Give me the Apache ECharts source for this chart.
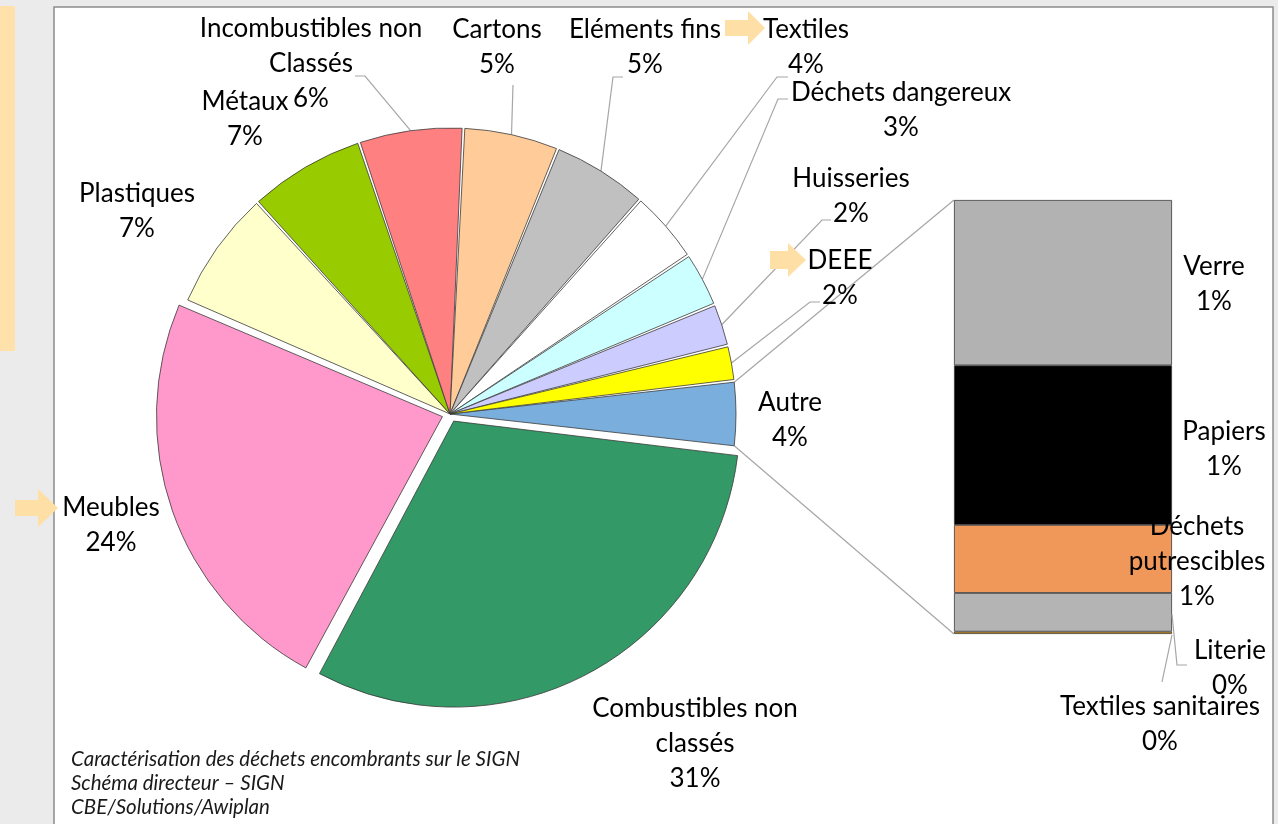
<!DOCTYPE html>
<html><head><meta charset="utf-8">
<script src="https://cdn.jsdelivr.net/npm/echarts@6/dist/echarts.min.js"></script>
<style>html,body{margin:0;padding:0;background:#ebebeb;}#c{width:1278px;height:824px;}</style>
</head><body><div id="c"></div>
<script>
// ---- DATA ----
// Main pie, listed clockwise starting with "Autre" (centred on the right)
const pieNames = ['Autre', 'Combustibles non\nclassés', 'Meubles', 'Plastiques', 'Métaux',
  'Incombustibles non\nClassés', 'Cartons', 'Eléments fins', 'Textiles', 'Déchets dangereux',
  'Huisseries', 'DEEE'];
const pieValues = [3.7, 31.0, 23.6, 6.8, 6.6, 5.9, 5.4, 5.4, 4.1, 3.1, 2.4, 2.0];
const explodedNames = ['Combustibles non\nclassés', 'Meubles'];
// Breakdown of "Autre" (stacked bar, bottom to top)
const barNames = ['Textiles sanitaires', 'Literie', 'Déchets\nputrescibles', 'Papiers', 'Verre'];
const barValues = [0.02, 0.33, 0.58, 1.36, 1.41];
const captionLines = ['Caractérisation des déchets encombrants sur le SIGN', 'Schéma directeur – SIGN', 'CBE/Solutions/Awiplan'];

// ---- STYLE / LAYOUT ----
const pieColors = ['#7aaedc', '#339966', '#ff99cc', '#ffffcc', '#99cc00', '#ff8080', '#ffcc99',
  '#c0c0c0', '#ffffff', '#ccffff', '#ccccff', '#ffff00'];
const barColors = ['#e8a317', '#b4b4b4', '#f0975a', '#000000', '#b2b2b2'];
const FONT = 'Lato, "Open Sans", sans-serif';
// label centre, leader-line end offset from centre, elbow length
const pieLabelSpots = [
  { at: [790, 420] },
  { at: [695, 744] },
  { at: [111, 525] },
  { at: [137, 211] },
  { at: [245, 119] },
  { at: [311, 64], end: [44, 12], elbow: 10 },
  { at: [497, 47], end: [16, 38], elbow: 0 },
  { at: [645, 47], end: [-22, 30], elbow: -10 },
  { at: [806, 47], end: [-18, 30], elbow: -11 },
  { at: [901, 110], end: [-113, -11], elbow: -10 },
  { at: [851, 196], end: [-20, 24], elbow: -9 },
  { at: [840, 278], end: [-20, 24], elbow: -10 }
];
const barLabelSpots = [
  { at: [1160, 724], end: [2, -42], elbow: 0 },
  { at: [1230, 668], end: [-43, -3], elbow: -10 },
  { at: [1197, 562] },
  { at: [1224, 449] },
  { at: [1214, 284] }
];

const pieTotal = pieValues.reduce((a, b) => a + b, 0);
const barTotal = barValues.reduce((a, b) => a + b, 0);
const pct = v => Math.round(v / pieTotal * 100) + '%';

const chart = echarts.init(document.getElementById('c'), null, { renderer: 'canvas' });

const labelStyle = { color: '#000', fontFamily: FONT, fontSize: 26, lineHeight: 35, align: 'center' };
const lineColor = '#a6a6a6';

const arrow = (x0, x1, xt, yc, bh, hh) => [[x0, yc - bh], [x1, yc - bh], [x1, yc - hh], [xt, yc], [x1, yc + hh], [x1, yc + bh], [x0, yc + bh]];

const baseGraphic = [
  { id: 'plot', type: 'rect', z: -10, shape: { x: 54, y: 7, width: 1219, height: 830 }, style: { fill: '#ffffff', stroke: '#8c8c8c', lineWidth: 1.5 } },
  { id: 'sidebar', type: 'rect', z: -10, shape: { x: 0, y: 6, width: 15, height: 345 }, style: { fill: '#ffe1a9' } },
  { id: 'a1', type: 'polygon', z: 5, shape: { points: arrow(725, 748, 765, 28, 8, 17) }, style: { fill: '#fee0a7' } },
  { id: 'a2', type: 'polygon', z: 5, shape: { points: arrow(770, 788, 806, 260, 9, 17) }, style: { fill: '#fee0a7' } },
  { id: 'a3', type: 'polygon', z: 5, shape: { points: arrow(15, 38, 58, 508, 8, 19) }, style: { fill: '#fee0a7' } },
  { id: 'cap', type: 'text', z: 5, x: 71, y: 747, style: { text: captionLines.join('\n'), fontFamily: FONT, fontStyle: 'italic', fontSize: 20.5, lineHeight: 24, fill: '#1a1a1a' } }
];
// labels of the exploded slices (drawn as text from the same data)
pieNames.forEach((n, i) => {
  if (explodedNames.indexOf(n) < 0) return;
  const s = pieLabelSpots[i];
  baseGraphic.push({ id: 'xl' + i, type: 'text', z: 6, x: s.at[0], y: s.at[1],
    style: { text: n + '\n' + pct(pieValues[i]), fontFamily: FONT, fontSize: 26, lineHeight: 35, fill: '#000', align: 'center', verticalAlign: 'middle' } });
});

const seriesList = [{
  type: 'pie',
  center: [450, 414],
  radius: 286,
  startAngle: pieValues[0] / pieTotal * 180,
  clockwise: true,
  padAngle: 0.55,
  avoidLabelOverlap: false,
  selectedMode: 'multiple',
  selectedOffset: 8,
  animation: false,
  itemStyle: { borderColor: '#3a3a3a', borderWidth: 0.8 },
  select: { itemStyle: { borderColor: '#3a3a3a', borderWidth: 0.8 } },
  emphasis: { disabled: true },
  label: Object.assign({ show: true, position: 'outside', formatter: p => p.name + '\n' + pct(p.value) }, labelStyle),
  labelLine: { show: true, lineStyle: { color: lineColor, width: 1.2 } },
  labelLayout: function (p) {
    const s = pieLabelSpots[p.dataIndex];
    const out = { x: s.at[0], y: s.at[1], align: 'center', verticalAlign: 'middle' };
    if (s.end && p.labelLinePoints) {
      const end = [s.at[0] + s.end[0], s.at[1] + s.end[1]];
      out.labelLinePoints = [p.labelLinePoints[0], [end[0] + s.elbow, end[1]], end];
    }
    return out;
  },
  data: pieNames.map((n, i) => {
    const ex = explodedNames.indexOf(n) >= 0;
    return {
      name: n, value: pieValues[i],
      selected: ex,
      itemStyle: { color: pieColors[i] },
      label: { show: !ex },
      labelLine: { show: !!pieLabelSpots[i].end }
    };
  })
}];

barNames.forEach((n, i) => {
  seriesList.push({
    type: 'bar', name: n, stack: 'autre', barWidth: '100%', animation: false,
    itemStyle: { color: barColors[i], borderColor: '#3a3a3a', borderWidth: 0.8 },
    emphasis: { disabled: true },
    label: Object.assign({ show: true, formatter: p => n + '\n' + pct(p.value) }, labelStyle),
    labelLayout: function () {
      const s = barLabelSpots[i];
      return { x: s.at[0], y: s.at[1], align: 'center', verticalAlign: 'middle' };
    },
    data: [barValues[i]]
  });
});

chart.setOption({
  backgroundColor: '#ebebeb',
  animation: false,
  grid: { left: 954, top: 200, width: 218, height: 434, containLabel: false },
  xAxis: { type: 'category', data: ['Autre'], show: false },
  yAxis: { type: 'value', min: 0, max: barTotal, show: false },
  graphic: { elements: baseGraphic },
  series: seriesList
});

// connector and leader lines derived from the library's layouts
(function () {
  const model = chart.getModel();
  const pieData = model.getSeriesByIndex(0).getData();
  const L = pieData.getItemLayout(0);
  const rects = barNames.map((n, i) => model.getSeriesByIndex(i + 1).getData().getItemLayout(0));
  let minX = Infinity, maxX = -Infinity, minY = Infinity, maxY = -Infinity;
  rects.forEach(r => {
    minX = Math.min(minX, r.x, r.x + r.width); maxX = Math.max(maxX, r.x, r.x + r.width);
    minY = Math.min(minY, r.y, r.y + r.height); maxY = Math.max(maxY, r.y, r.y + r.height);
  });
  const a = [L.cx + L.r * Math.cos(L.startAngle), L.cy + L.r * Math.sin(L.startAngle)];
  const b = [L.cx + L.r * Math.cos(L.endAngle), L.cy + L.r * Math.sin(L.endAngle)];
  const upPt = a[1] < b[1] ? a : b, lowPt = a[1] < b[1] ? b : a;
  const extra = [
    { id: 'c1', type: 'polyline', z: 1, shape: { points: [upPt, [minX, minY]] }, style: { stroke: lineColor, lineWidth: 1.2, fill: null } },
    { id: 'c2', type: 'polyline', z: 1, shape: { points: [lowPt, [minX, maxY]] }, style: { stroke: lineColor, lineWidth: 1.2, fill: null } }
  ];
  rects.forEach((r, i) => {
    const s = barLabelSpots[i];
    if (!s.end) return;
    const y0 = Math.min(r.y, r.y + r.height), y1 = Math.max(r.y, r.y + r.height);
    const p0 = [maxX, (y0 + y1) / 2 + 2];
    const end = [s.at[0] + s.end[0], s.at[1] + s.end[1]];
    extra.push({ id: 'bl' + i, type: 'polyline', z: 5, shape: { points: [p0, [end[0] + s.elbow, end[1]], end] }, style: { stroke: lineColor, lineWidth: 1.2, fill: null } });
  });
  chart.setOption({ graphic: { elements: extra } });
})();
</script></body></html>
